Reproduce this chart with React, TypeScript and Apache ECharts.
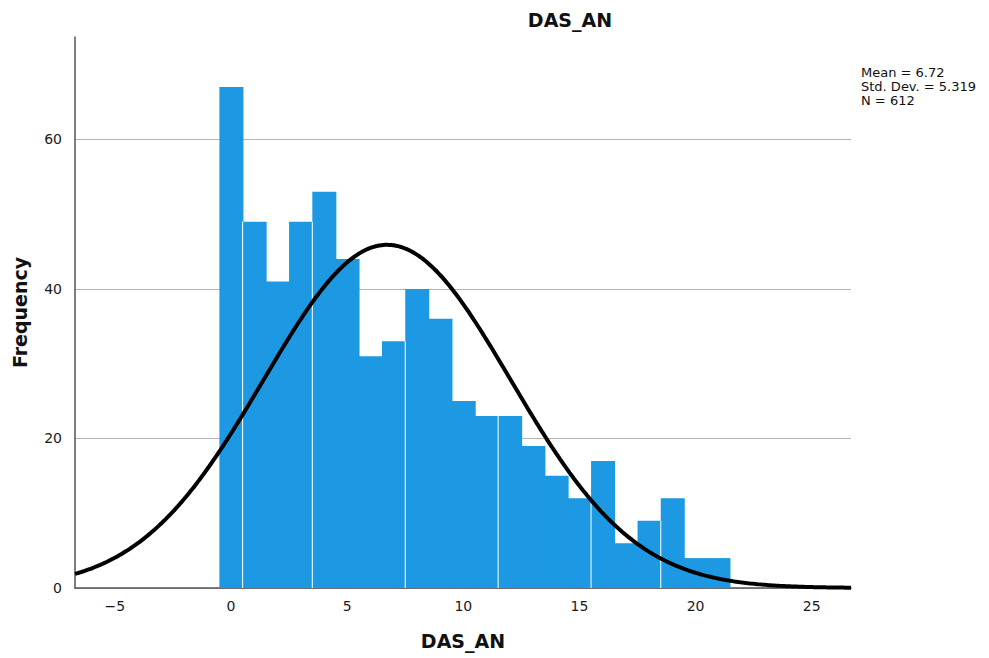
import React, { useEffect, useRef } from "react";
import * as echarts from "echarts";

// Histogram of DAS_AN: one bin per integer score
const binCenters = [0, 1, 2, 3, 4, 5, 6, 7, 8, 9, 10, 11, 12, 13, 14, 15, 16, 17, 18, 19, 20, 21];
const frequencies = [67, 49, 41, 49, 53, 44, 31, 33, 40, 36, 25, 23, 23, 19, 15, 12, 17, 6, 9, 12, 4, 4];
// bins drawn with a thin white edge on their left side
const edgedBins = [1, 4, 8, 12, 16, 19];

const meanValue = 6.72;
const stdDev = 5.319;
const sampleSize = 612;
const binWidth = 1;

const xTicks = [-5, 0, 5, 10, 15, 20, 25];
const yTicks = [0, 20, 40, 60];
const xMin = -6.716;
const xMax = 26.69;
const yMax = 73.7;

const statsLines = [
  `Mean = ${meanValue}`,
  `Std. Dev. = ${stdDev}`,
  `N = ${sampleSize}`,
];

// fitted normal curve scaled to counts
function normalCurve(): number[][] {
  const pts: number[][] = [];
  const steps = 400;
  const k = (sampleSize * binWidth) / (stdDev * Math.sqrt(2 * Math.PI));
  for (let i = 0; i <= steps; i++) {
    const x = xMin + ((xMax - xMin) * i) / steps;
    const z = (x - meanValue) / stdDev;
    pts.push([x, k * Math.exp(-0.5 * z * z)]);
  }
  return pts;
}

const FONT = "DejaVu Sans";

export default function App() {
  const ref = useRef<HTMLDivElement>(null);

  useEffect(() => {
    if (!ref.current) return;
    const chart = echarts.init(ref.current, undefined, { renderer: "svg" });
    const barData = binCenters.map((c, i) => [c, frequencies[i], i]);

    chart.setOption({
      animation: false,
      backgroundColor: "#ffffff",
      title: {
        text: "DAS_AN",
        left: 565,
        top: 5,
        textAlign: "center",
        textStyle: { fontFamily: FONT, fontWeight: "bold", fontSize: 19, color: "#111" },
      },
      grid: { left: 75, right: 138, top: 37, bottom: 70, containLabel: false, outerBoundsMode: "none" },
      xAxis: {
        type: "value",
        min: xMin,
        max: xMax,
        name: "DAS_AN",
        nameLocation: "middle",
        nameGap: 43,
        nameTextStyle: { fontFamily: FONT, fontWeight: "bold", fontSize: 19, color: "#111" },
        axisLine: { show: true, onZero: false, lineStyle: { color: "#555", width: 1.5 } },
        axisTick: { show: false, customValues: xTicks },
        axisLabel: {
          customValues: xTicks,
          margin: 11,
          fontFamily: FONT,
          fontSize: 14,
          color: "#1a1a1a",
          formatter: (v: number) => String(v).replace("-", "\u2212"),
        },
        splitLine: { show: false },
      },
      yAxis: {
        type: "value",
        min: 0,
        max: yMax,
        name: "Frequency",
        nameLocation: "middle",
        nameGap: 46,
        nameRotate: 90,
        nameTextStyle: { fontFamily: FONT, fontWeight: "bold", fontSize: 19, color: "#111" },
        axisLine: { show: true, onZero: false, lineStyle: { color: "#555", width: 1.5 } },
        axisTick: { show: false, customValues: yTicks },
        axisLabel: { customValues: yTicks, margin: 13, fontFamily: FONT, fontSize: 14, color: "#1a1a1a" },
        splitLine: { show: true, lineStyle: { color: "#b4b4b4", width: 1.2 } },
      },
      graphic: statsLines.map((line, i) => ({
        type: "text",
        left: 861,
        top: 65 + i * 14,
        style: {
          text: line,
          fontFamily: FONT,
          fontSize: 13,
          lineHeight: 14,
          fill: "#111",
        },
      })),
      series: [
        {
          type: "custom",
          data: barData,
          clip: true,
          renderItem: (params: any, api: any) => {
            const c = api.value(0);
            const v = api.value(1);
            const idx = api.value(2);
            const p0 = api.coord([c - binWidth / 2, 0]);
            const p1 = api.coord([c + binWidth / 2, v]);
            const last = idx === frequencies.length - 1;
            const children: any[] = [
              {
                type: "rect",
                // overlap the neighbour slightly so no seam shows between bins
                shape: {
                  x: p0[0],
                  y: p1[1],
                  width: p1[0] - p0[0] + (last ? 0 : 0.8),
                  height: p0[1] - p1[1],
                },
                style: { fill: "#1d99e4" },
                z2: idx,
              },
            ];
            if (edgedBins.includes(c) && idx > 0) {
              const h = Math.min(v, frequencies[idx - 1]);
              const top = api.coord([c, h]);
              children.push({
                type: "line",
                shape: { x1: p0[0], y1: p0[1], x2: p0[0], y2: top[1] },
                style: { stroke: "#ffffff", lineWidth: 1 },
                z2: 100,
              });
            }
            return { type: "group", children };
          },
          z: 2,
        },
        {
          type: "line",
          data: normalCurve(),
          showSymbol: false,
          symbol: "none",
          smooth: false,
          lineStyle: { color: "#000", width: 4 },
          z: 3,
        },
      ],
    });
    return () => chart.dispose();
  }, []);

  return <div ref={ref} style={{ width: 989, height: 658, position: "absolute", left: 0, top: 0 }} />;
}
